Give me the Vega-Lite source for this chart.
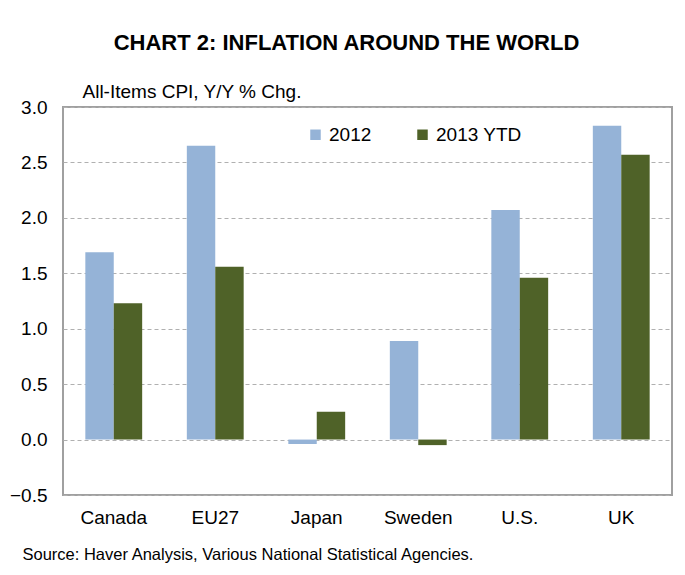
{
  "$schema": "https://vega.github.io/schema/vega-lite/v6.json",
  "width": 609,
  "height": 388,
  "autosize": {"type": "none"},
  "padding": {"left": 63, "top": 107, "right": 13, "bottom": 80},
  "background": "white",
  "title": {
    "text": "CHART 2: INFLATION AROUND THE WORLD",
    "font": "Liberation Sans",
    "fontSize": 22,
    "fontWeight": "bold",
    "color": "black",
    "anchor": "middle",
    "frame": "group",
    "dx": -21,
    "offset": 27
  },
  "config": {
    "font": "Liberation Sans",
    "view": {"stroke": "#a0a0a0", "strokeWidth": 2}
  },
  "layer": [
    {
      "data": {
        "values": [
          {"country": "Canada", "series": "2012", "value": 1.69},
          {"country": "Canada", "series": "2013 YTD", "value": 1.23},
          {"country": "EU27", "series": "2012", "value": 2.65},
          {"country": "EU27", "series": "2013 YTD", "value": 1.56},
          {"country": "Japan", "series": "2012", "value": -0.04},
          {"country": "Japan", "series": "2013 YTD", "value": 0.25},
          {"country": "Sweden", "series": "2012", "value": 0.89},
          {"country": "Sweden", "series": "2013 YTD", "value": -0.05},
          {"country": "U.S.", "series": "2012", "value": 2.07},
          {"country": "U.S.", "series": "2013 YTD", "value": 1.46},
          {"country": "UK", "series": "2012", "value": 2.83},
          {"country": "UK", "series": "2013 YTD", "value": 2.57}
        ]
      },
      "mark": {"type": "bar"},
      "encoding": {
        "x": {
          "field": "country",
          "type": "nominal",
          "sort": ["Canada", "EU27", "Japan", "Sweden", "U.S.", "UK"],
          "scale": {"paddingInner": 0.44, "paddingOuter": 0.22},
          "axis": {
            "labelAngle": 0,
            "labelFontSize": 19,
            "labelColor": "black",
            "labelPadding": 13,
            "ticks": false,
            "domain": false,
            "title": "Source: Haver Analysis, Various National Statistical Agencies.",
            "titleX": -41,
            "titleY": 64,
            "titleAlign": "left",
            "titleBaseline": "alphabetic",
            "titleFontWeight": "normal",
            "titleFontSize": 16.5,
            "titleColor": "black"
          }
        },
        "xOffset": {"field": "series", "sort": ["2012", "2013 YTD"]},
        "y": {
          "field": "value",
          "type": "quantitative",
          "scale": {"domain": [-0.5, 3], "nice": false},
          "axis": {
            "values": [-0.5, 0, 0.5, 1, 1.5, 2, 2.5, 3],
            "format": ".1f",
            "labelFontSize": 19,
            "labelColor": "black",
            "labelPadding": 16,
            "ticks": false,
            "domain": false,
            "grid": true,
            "gridDash": [4, 3],
            "gridColor": "#b0b0b0",
            "title": "All-Items CPI, Y/Y % Chg.",
            "titleAngle": 0,
            "titleX": 19,
            "titleY": -10,
            "titleAlign": "left",
            "titleBaseline": "alphabetic",
            "titleFontWeight": "normal",
            "titleFontSize": 19,
            "titleColor": "black"
          }
        },
        "color": {
          "field": "series",
          "type": "nominal",
          "scale": {"domain": ["2012", "2013 YTD"], "range": ["#95B3D7", "#4F6228"]},
          "legend": {
            "orient": "none",
            "legendX": 243,
            "legendY": 18,
            "direction": "horizontal",
            "title": null,
            "symbolType": "square",
            "symbolSize": 110,
            "symbolStrokeWidth": 0,
            "labelFontSize": 19,
            "labelColor": "black",
            "labelOffset": 4,
            "columnPadding": 41
          }
        }
      }
    },
    {
      "mark": {"type": "rule", "color": "#888888", "strokeWidth": 2},
      "encoding": {
        "y": {"datum": 0}
      }
    }
  ]
}
